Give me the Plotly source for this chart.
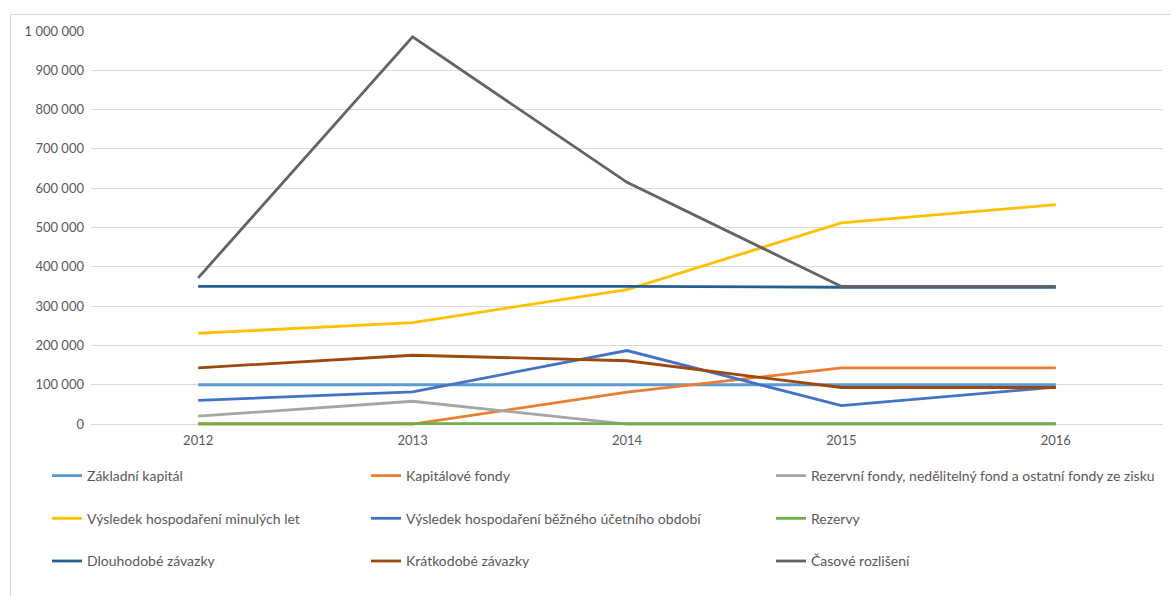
import plotly.graph_objects as go

years = ["2012", "2013", "2014", "2015", "2016"]

zakladni_kapital = [100000, 100000, 100000, 100000, 100000]
kapitalove_fondy = [0, 0, 81000, 143000, 143000]
rezervni_fondy = [20000, 58000, 0, 0, 0]
vysledek_minulych = [231000, 258000, 342000, 512000, 558000]
vysledek_bezneho = [60000, 82000, 187000, 47000, 94000]
rezervy = [1000, 1000, 2000, 1000, 1000]
dlouhodobe_zavazky = [350000, 350000, 350000, 348000, 348000]
kratkodobe_zavazky = [143000, 175000, 161000, 93000, 93000]
casove_rozliseni = [372000, 985000, 615000, 350000, 350000]

series = [
    ("Základní kapitál", zakladni_kapital, "#5B9BD5", "legend"),
    ("Kapitálové fondy", kapitalove_fondy, "#ED7D31", "legend2"),
    ("Rezervní fondy, nedělitelný fond a ostatní fondy ze zisku", rezervni_fondy, "#A5A5A5", "legend3"),
    ("Výsledek hospodaření minulých let", vysledek_minulych, "#FFC000", "legend"),
    ("Výsledek hospodaření běžného účetního období", vysledek_bezneho, "#4472C4", "legend2"),
    ("Rezervy", rezervy, "#70AD47", "legend3"),
    ("Dlouhodobé závazky", dlouhodobe_zavazky, "#255E91", "legend"),
    ("Krátkodobé závazky", kratkodobe_zavazky, "#9E480E", "legend2"),
    ("Časové rozlišení", casove_rozliseni, "#636363", "legend3"),
]

W, H = 1171, 596
L, R, T, B = 91, 8, 31, 170
pw, ph = W - L - R, H - T - B

def px(x):
    return (x - L) / pw

def py(y):
    return (H - B - y) / ph

fig = go.Figure()
for i, (name, vals, color, lg) in enumerate(series):
    fig.add_trace(go.Scatter(
        x=years, y=vals, name=name, mode="lines",
        line=dict(color=color, width=2.8),
        legend=lg, legendgroup=f"g{i}",
    ))

font = dict(family="Lato, Calibri, sans-serif", size=13, color="#595959")
legend_common = dict(
    orientation="v", xanchor="left", yanchor="top",
    font=dict(family="Lato, Calibri, sans-serif", size=14, color="#595959"),
    tracegroupgap=21.5, bgcolor="rgba(0,0,0,0)", itemwidth=30,
    traceorder="grouped",
)

fig.update_layout(
    width=W, height=H,
    margin=dict(l=L, r=R, t=T, b=B, autoexpand=False),
    paper_bgcolor="white", plot_bgcolor="white",
    font=font,
    separators=", ",
    showlegend=True,
    legend=dict(legend_common, x=px(47), y=py(460)),
    legend2=dict(legend_common, x=px(366), y=py(460)),
    legend3=dict(legend_common, x=px(771), y=py(460)),
    xaxis=dict(
        type="category", showgrid=False, zeroline=False, showline=False,
        ticks="", tickfont=font, range=[-0.5, 4.5], ticklabelstandoff=5,
    ),
    yaxis=dict(
        range=[-5000, 1000000], tickvals=[0, 100000, 200000, 300000, 400000, 500000,
                                          600000, 700000, 800000, 900000, 1000000],
        tickformat=",d", showgrid=True, gridcolor="#D9D9D9", gridwidth=1,
        zeroline=False, showline=False, ticks="", tickfont=font,
        ticklabelstandoff=6,
    ),
    shapes=[
        dict(type="line", xref="paper", yref="paper", x0=px(10.5), x1=px(1180),
             y0=py(14.5), y1=py(14.5), line=dict(color="#D9D9D9", width=1)),
        dict(type="line", xref="paper", yref="paper", x0=px(10.5), x1=px(10.5),
             y0=py(14.5), y1=py(610), line=dict(color="#D9D9D9", width=1)),
    ],
)

fig.write_html("out.html")
